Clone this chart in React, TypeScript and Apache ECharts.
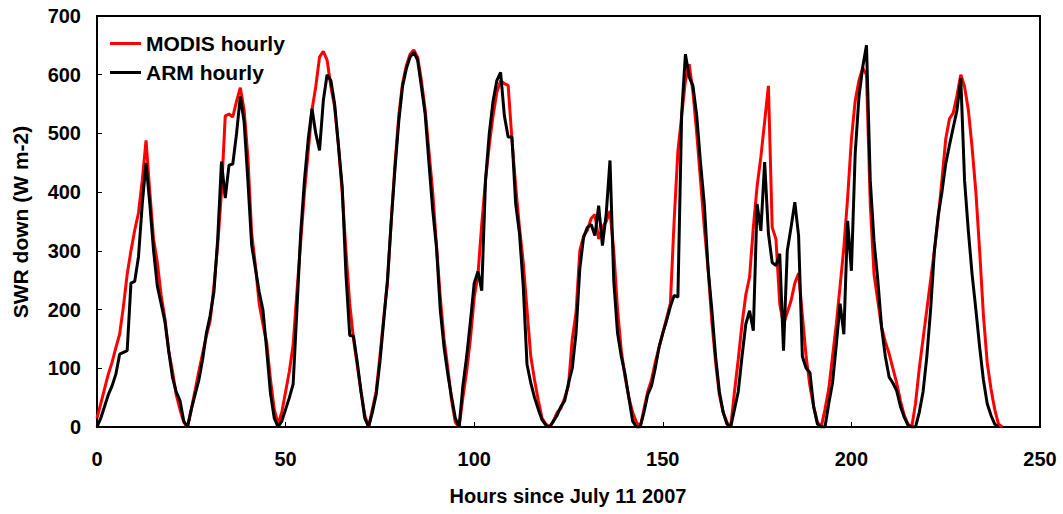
import React, { useEffect, useRef } from "react";
import * as echarts from "echarts";

const xTicks = [0, 50, 100, 150, 200, 250];
const yTicks = [0, 100, 200, 300, 400, 500, 600, 700];

// hourly values, index = hours since July 11 2007
const modisHourly = [
  15, 40, 65, 90, 110, 135, 158, 205, 260, 300, 335, 365, 420, 488, 400, 320, 280, 225, 185, 130, 95, 55, 30, 8,
  0, 30, 62, 95, 125, 155, 181, 240, 310, 400, 530, 533, 528, 555, 578, 540, 460, 330, 275, 210, 175, 143, 80, 30,
  5, 25, 60, 95, 140, 230, 315, 400, 470, 540, 580, 630, 640, 625, 580, 545, 480, 400, 300, 210, 150, 105, 60, 20,
  0, 30, 60, 120, 185, 245, 350, 448, 530, 585, 615, 635, 642, 630, 590, 540, 470, 400, 310, 221, 150, 100, 45, 8,
  0, 50, 95, 150, 220, 260, 345, 420, 480, 530, 570, 590, 585, 582, 490, 410, 340, 280, 200, 120, 80, 45, 15, 5,
  0, 10, 25, 32, 50, 70, 150, 195, 300, 325, 335, 355, 362, 320, 340, 350, 368, 300, 200, 130, 85, 50, 25, 8,
  0, 30, 60, 80, 110, 135, 160, 185, 210, 350, 470, 530, 590, 618, 570, 500, 420, 340, 270, 180, 110, 55, 25, 8,
  0, 60, 115, 175, 225, 255, 340, 410, 460, 520, 581, 340, 320, 210, 175, 195, 215, 245, 262, 190, 120, 70, 35, 8,
  0, 30, 65, 120, 175, 240, 306, 390, 490, 555, 590, 612, 600, 380, 260, 215, 170, 145, 125, 100, 75, 45, 20, 5,
  0, 40, 100, 150, 200, 250, 300, 355, 420, 490, 525, 535, 565, 600, 580, 540, 476, 400, 300, 190, 110, 65, 30, 5,
  0,
];

const armHourly = [
  0, 15, 35, 55, 70, 90, 124, 127, 130, 245, 248, 290, 380, 450, 380, 300, 240, 210, 180, 130, 85, 60, 45, 10,
  0, 30, 55, 80, 115, 160, 190, 230, 320, 452, 390, 446, 448, 500, 563, 520, 420, 310, 270, 230, 199, 130, 57, 15,
  0, 10, 30, 50, 73, 200, 330, 420, 490, 542, 500, 471, 556, 600, 590, 550, 480, 410, 260, 156, 155, 110, 60, 15,
  0, 25, 55, 110, 180, 250, 350, 440, 520, 580, 610, 630, 638, 625, 580, 533, 450, 370, 306, 200, 136, 90, 51, 15,
  0, 70, 120, 180, 245, 265, 232, 420, 500, 555, 590, 604, 530, 494, 494, 380, 330, 240, 107, 75, 50, 30, 12, 3,
  0, 10, 20, 35, 45, 75, 100, 160, 270, 323, 340, 345, 326, 377, 309, 363, 454, 249, 160, 120, 90, 50, 10, 0,
  0, 25, 55, 70, 100, 136, 160, 181, 205, 224, 221, 533, 635, 596, 581, 530, 450, 380, 270, 200, 120, 60, 25, 5,
  0, 30, 60, 120, 175, 198, 164, 380, 334, 451, 330, 280, 275, 295, 130, 300, 340, 383, 326, 120, 100, 93, 34, 5,
  0, 0, 40, 75, 140, 210, 158, 351, 266, 465, 562, 613, 650, 420, 317, 250, 170, 120, 85, 75, 62, 35, 17, 3,
  0, 0, 25, 60, 120, 200, 300, 360, 400, 448, 480, 510, 540, 594, 420, 334, 260, 200, 136, 80, 40, 20, 5, 0,
];

const FONT = "'Liberation Sans', Arial, sans-serif";

export default function App() {
  const ref = useRef<HTMLDivElement>(null);
  useEffect(() => {
    if (!ref.current) return;
    const chart = echarts.init(ref.current, null, { renderer: "svg" });
    const modisData = modisHourly.map((v, i) => [i, v]);
    const armData = armHourly.map((v, i) => [i, v]);
    chart.setOption({
      animation: false,
      backgroundColor: "#fff",
      grid: {
        left: 97,
        top: 16,
        width: 943,
        height: 411,
        show: true,
        borderColor: "#000",
        borderWidth: 2,
        backgroundColor: "transparent",
      },
      legend: {
        orient: "vertical",
        left: 110,
        top: 33,
        padding: 0,
        icon: "rect",
        itemWidth: 31,
        itemHeight: 3,
        itemGap: 8,
        textStyle: { fontFamily: FONT, fontWeight: "bold", fontSize: 21, color: "#000", lineHeight: 21 },
        data: ["MODIS hourly", "ARM hourly"],
      },
      xAxis: {
        type: "value",
        min: xTicks[0],
        max: xTicks[xTicks.length - 1],
        interval: 50,
        axisLine: { lineStyle: { color: "#000", width: 2 } },
        axisTick: { inside: true, length: 5, lineStyle: { color: "#000", width: 1 } },
        axisLabel: { margin: 22, fontFamily: FONT, fontWeight: "bold", fontSize: 20, color: "#000" },
        splitLine: { show: false },
      },
      yAxis: {
        type: "value",
        min: yTicks[0],
        max: yTicks[yTicks.length - 1],
        interval: 100,
        axisLine: { lineStyle: { color: "#000", width: 2 } },
        axisTick: { inside: true, length: 5, lineStyle: { color: "#000", width: 1 } },
        axisLabel: { margin: 16, fontFamily: FONT, fontWeight: "bold", fontSize: 20, color: "#000" },
        splitLine: { show: false },
      },
      graphic: [
        {
          type: "text",
          x: 568,
          y: 496,
          style: {
            text: "Hours since July 11 2007",
            fontFamily: FONT,
            fontWeight: "bold",
            fontSize: 20,
            fill: "#000",
            align: "center",
            verticalAlign: "middle",
          },
        },
        {
          type: "text",
          x: 20,
          y: 222,
          rotation: Math.PI / 2,
          style: {
            text: "SWR down (W m-2)",
            fontFamily: FONT,
            fontWeight: "bold",
            fontSize: 21,
            fill: "#000",
            align: "center",
            verticalAlign: "middle",
          },
        },
      ],
      series: [
        {
          name: "MODIS hourly",
          type: "line",
          data: modisData,
          showSymbol: false,
          symbol: "none",
          lineStyle: { color: "#ff0000", width: 3 },
          itemStyle: { color: "#ff0000" },
          z: 2,
        },
        {
          name: "ARM hourly",
          type: "line",
          data: armData,
          showSymbol: false,
          symbol: "none",
          lineStyle: { color: "#000000", width: 3 },
          itemStyle: { color: "#000000" },
          z: 3,
        },
      ],
    });
    return () => chart.dispose();
  }, []);
  return (
    <div
      ref={ref}
      style={{ position: "fixed", left: 0, top: 0, width: 1063, height: 514, background: "#fff" }}
    />
  );
}
